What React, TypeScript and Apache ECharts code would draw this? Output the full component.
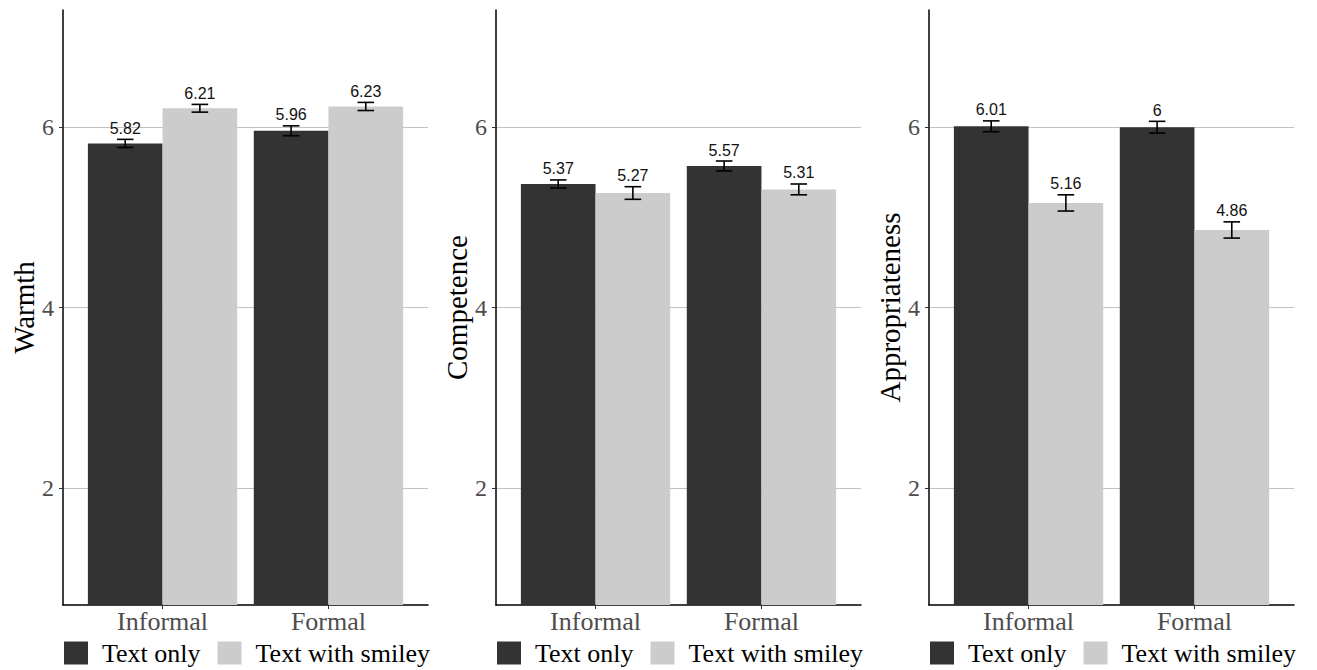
import React, { useEffect, useRef } from "react";
import * as echarts from "echarts";

const categories = ["Informal", "Formal"];
const seriesNames = ["Text only", "Text with smiley"];
const panelTitles = ["Warmth", "Competence", "Appropriateness"];
const yTicks = [2, 4, 6];
const categoryPositions = [1, 2];

const warmthTextOnly = [5.82, 5.96];
const warmthTextOnlyErr = [0.045, 0.055];
const warmthSmiley = [6.21, 6.23];
const warmthSmileyErr = [0.043, 0.045];

const competenceTextOnly = [5.37, 5.57];
const competenceTextOnlyErr = [0.045, 0.055];
const competenceSmiley = [5.27, 5.31];
const competenceSmileyErr = [0.07, 0.06];

const appropTextOnly = [6.01, 6];
const appropTextOnlyErr = [0.06, 0.065];
const appropSmiley = [5.16, 4.86];
const appropSmileyErr = [0.09, 0.09];

const Y_MIN = 0.7;
const Y_MAX = 7.3;
const X_MIN = 0.4;
const X_MAX = 2.6;
const BAR_HALF = 0.225;
const CAP_HALF = 0.05;

const colors = ["#333333", "#cccccc"];
const serif = "Liberation Serif";
const sans = "Liberation Sans";

const panels = [
  { title: panelTitles[0], vals: [warmthTextOnly, warmthSmiley], errs: [warmthTextOnlyErr, warmthSmileyErr] },
  { title: panelTitles[1], vals: [competenceTextOnly, competenceSmiley], errs: [competenceTextOnlyErr, competenceSmileyErr] },
  { title: panelTitles[2], vals: [appropTextOnly, appropSmiley], errs: [appropTextOnlyErr, appropSmileyErr] },
];

const gridLefts = [63, 496, 929];
const GRID_W = 365;

export default function App() {
  const ref = useRef<HTMLDivElement>(null);
  useEffect(() => {
    if (!ref.current) return;
    const chart = echarts.init(ref.current, null, { renderer: "svg" });

    const grids = gridLefts.map((l) => ({ left: l, top: 10, width: GRID_W, height: 595, containLabel: false }));
    const xAxes = gridLefts.map((_, i) => ({
      type: "value",
      gridIndex: i,
      min: X_MIN,
      max: X_MAX,
      axisLine: { show: true, onZero: false, lineStyle: { color: "#000", width: 1.5 } },
      axisTick: { show: true, customValues: categoryPositions, length: 4, lineStyle: { color: "#333" } },
      axisLabel: {
        customValues: categoryPositions,
        formatter: (v: number) => categories[Math.round(v) - 1] ?? "",
        margin: 3,
        fontFamily: serif,
        fontSize: 26,
        color: "#4d4d4d",
      },
      splitLine: { show: false },
    }));
    const yAxes = panels.map((p, i) => ({
      type: "value",
      gridIndex: i,
      min: Y_MIN,
      max: Y_MAX,
      name: p.title,
      nameLocation: "middle",
      nameRotate: 90,
      nameGap: 24,
      nameTextStyle: { fontFamily: serif, fontSize: 29, color: "#000" },
      axisLine: { show: true, onZero: false, lineStyle: { color: "#000", width: 1.5 } },
      axisTick: { show: true, customValues: yTicks, length: 4, lineStyle: { color: "#333" } },
      axisLabel: { customValues: yTicks, margin: 9, fontFamily: serif, fontSize: 24, color: "#4d4d4d" },
      splitLine: { show: true, lineStyle: { color: "#c2c2c2", width: 1 } },
    }));

    const series: any[] = [];
    panels.forEach((p, pi) => {
      [0, 1].forEach((si) => {
        const offset = si === 0 ? -BAR_HALF : BAR_HALF;
        const color = colors[si];
        series.push({
          type: "custom",
          name: seriesNames[si],
          xAxisIndex: pi,
          yAxisIndex: pi,
          itemStyle: { color },
          data: categoryPositions.map((c, ci) => [c, p.vals[si][ci], p.errs[si][ci]]),
          renderItem: (params: any, api: any) => {
            const cx = api.value(0) + offset;
            const v = api.value(1);
            const e = api.value(2);
            const tl = api.coord([cx - BAR_HALF, v]);
            const br = api.coord([cx + BAR_HALF, Y_MIN]);
            const top = api.coord([cx, v + e]);
            const bot = api.coord([cx, v - e]);
            const capL = api.coord([cx - CAP_HALF, v])[0];
            const capR = api.coord([cx + CAP_HALF, v])[0];
            const stroke = { stroke: "#000", lineWidth: 1.6 };
            return {
              type: "group",
              children: [
                { type: "rect", shape: { x: tl[0], y: tl[1], width: br[0] - tl[0], height: br[1] - tl[1] }, style: { fill: color } },
                { type: "line", shape: { x1: top[0], y1: top[1], x2: bot[0], y2: bot[1] }, style: stroke },
                { type: "line", shape: { x1: capL, y1: top[1], x2: capR, y2: top[1] }, style: stroke },
                { type: "line", shape: { x1: capL, y1: bot[1], x2: capR, y2: bot[1] }, style: stroke },
                {
                  type: "text",
                  x: top[0],
                  y: top[1] - 3,
                  style: {
                    text: String(v),
                    fontFamily: sans,
                    fontSize: 16,
                    fill: "#111",
                    align: "center",
                    verticalAlign: "bottom",
                  },
                },
              ],
            };
          },
        });
      });
    });

    const legends = gridLefts.map((l) => ({
      left: l - 4,
      top: 635,
      orient: "horizontal",
      itemWidth: 24,
      itemHeight: 23,
      itemGap: 17,
      icon: "rect",
      data: seriesNames,
      selectedMode: false,
      textStyle: { fontFamily: serif, fontSize: 26, color: "#000", padding: [0, 0, 0, 9] },
    }));

    chart.setOption({
      animation: false,
      backgroundColor: "#fff",
      grid: grids,
      xAxis: xAxes,
      yAxis: yAxes,
      legend: legends,
      series,
    });
    return () => chart.dispose();
  }, []);
  return <div ref={ref} style={{ position: "fixed", left: 0, top: 0, width: 1317, height: 670 }} />;
}
